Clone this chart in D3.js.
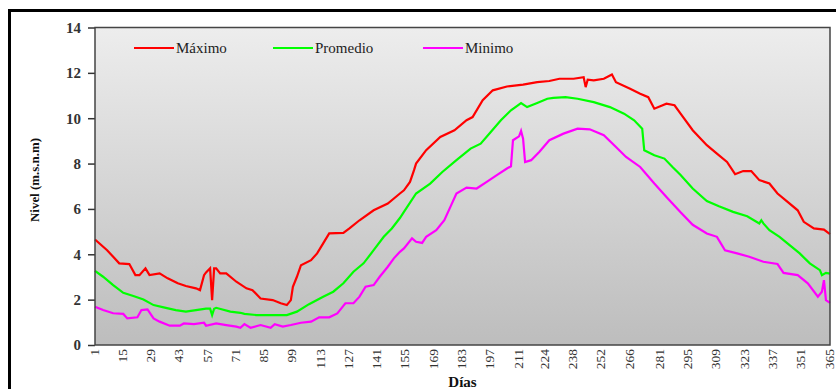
<!DOCTYPE html>
<html>
<head>
<meta charset="utf-8">
<script src="https://cdn.jsdelivr.net/npm/d3@7/dist/d3.min.js"></script>
<style>
html,body{margin:0;padding:0;background:#fff;}
svg{display:block;}
</style>
</head>
<body>
<svg id="chart" width="836" height="389"></svg>
<script>
// ---- Data ----
const xTickLabels = [1,15,29,43,57,71,85,99,113,127,141,155,169,183,197,211,224,238,252,266,281,295,309,323,337,351,365];
const yTickLabels = [0,2,4,6,8,10,12,14];
const seriesNames = ["Máximo","Promedio","Minimo"];
const seriesColors = ["#ff0000","#00ff00","#ff00ff"];

const maxDays = [1,7,10,13,18,21,23,26,28,33,37,42,46,51,53,55,56,58,59,60,61,63,66,71,76,79,83,89,93,96,98,99,101,103,108,111,114,117,124,127,132,139,146,152,154,157,159,160,165,172,179,185,188,193,198,205,213,220,226,231,238,243,244,245,248,253,257,259,266,271,275,278,284,288,291,297,304,309,314,318,322,326,330,335,339,344,349,352,357,362,365];
const maxVals = [4.65,4.18,3.89,3.6,3.57,3.08,3.08,3.38,3.08,3.16,2.94,2.72,2.6,2.5,2.42,3.08,3.2,3.38,1.98,3.38,3.38,3.16,3.16,2.79,2.5,2.42,2.05,1.98,1.84,1.76,1.98,2.57,3.01,3.52,3.74,4.04,4.48,4.92,4.94,5.14,5.5,5.94,6.24,6.68,6.82,7.19,7.71,8.0,8.59,9.17,9.47,9.91,10.05,10.79,11.23,11.4,11.48,11.59,11.64,11.74,11.74,11.81,11.37,11.7,11.67,11.74,11.93,11.59,11.3,11.08,10.93,10.42,10.64,10.57,10.2,9.47,8.81,8.44,8.07,7.53,7.67,7.67,7.27,7.12,6.68,6.31,5.94,5.43,5.14,5.09,4.89];

const avgDays = [1,5,10,15,20,25,30,35,41,46,51,56,58,59,60,61,68,73,75,81,89,96,101,107,114,119,124,129,134,139,144,148,152,154,160,167,173,180,187,192,197,202,207,212,215,220,225,228,234,240,248,256,263,268,272,273,278,283,287,291,297,304,310,317,324,330,331,332,335,340,345,350,355,360,361,363,365];
const avgVals = [3.27,3.01,2.64,2.3,2.16,2.01,1.76,1.66,1.54,1.47,1.54,1.6,1.6,1.32,1.6,1.64,1.47,1.42,1.37,1.32,1.32,1.32,1.47,1.8,2.13,2.35,2.72,3.23,3.6,4.18,4.77,5.14,5.6,5.87,6.68,7.12,7.63,8.15,8.66,8.88,9.39,9.91,10.35,10.67,10.49,10.67,10.86,10.9,10.93,10.86,10.71,10.49,10.2,9.91,9.54,8.59,8.37,8.22,7.85,7.5,6.9,6.35,6.12,5.87,5.68,5.36,5.5,5.36,5.06,4.77,4.4,4.04,3.6,3.3,3.08,3.18,3.15];

const minDays = [1,5,10,15,17,22,24,27,30,33,38,43,45,50,55,56,61,66,71,73,75,78,83,88,90,94,98,103,108,112,117,121,125,129,132,135,139,142,146,149,152,154,158,160,163,165,170,174,177,180,185,190,195,200,205,207,208,211,212,213,214,217,221,226,233,240,246,253,259,264,271,278,284,291,297,304,309,313,319,325,332,339,342,349,354,359,361,362,363,365];
const minVals = [1.69,1.54,1.4,1.37,1.17,1.22,1.54,1.57,1.17,1.03,0.85,0.85,0.95,0.92,0.98,0.85,0.95,0.88,0.81,0.76,0.92,0.76,0.88,0.76,0.92,0.81,0.88,0.98,1.03,1.22,1.22,1.39,1.84,1.84,2.13,2.57,2.64,3.01,3.45,3.82,4.11,4.26,4.7,4.55,4.5,4.77,5.06,5.5,6.09,6.68,6.94,6.9,7.19,7.49,7.78,7.88,9.03,9.2,9.44,9.1,8.07,8.15,8.51,9.03,9.32,9.54,9.51,9.25,8.73,8.29,7.85,7.12,6.53,5.85,5.3,4.92,4.77,4.18,4.04,3.89,3.67,3.57,3.18,3.08,2.72,2.13,2.35,2.86,1.98,1.86];

// ---- Chart ----
const svg = d3.select("#chart");
const W = 836, H = 389;
const plot = {left: 95, top: 27.5, right: 830, bottom: 345};

const x = d3.scaleLinear().domain([1, 365]).range([plot.left, plot.right]);
const y = d3.scaleLinear().domain([0, 14]).range([plot.bottom, plot.top]);

// outer frame
svg.append("rect")
  .attr("x", 9.5).attr("y", 10.5)
  .attr("width", W + 20).attr("height", H + 20)
  .attr("fill", "#fff").attr("stroke", "#000").attr("stroke-width", 3);

// gradient background
const defs = svg.append("defs");
const grad = defs.append("linearGradient").attr("id", "bg")
  .attr("x1", 0).attr("y1", 0).attr("x2", 0).attr("y2", 1);
grad.append("stop").attr("offset", "0%").attr("stop-color", "#ededed");
grad.append("stop").attr("offset", "100%").attr("stop-color", "#bdbdbd");

svg.append("rect")
  .attr("x", plot.left).attr("y", plot.top)
  .attr("width", plot.right - plot.left).attr("height", plot.bottom - plot.top)
  .attr("fill", "url(#bg)");

// y axis
const yAxis = d3.axisLeft(y).tickValues(yTickLabels).tickSize(7).tickPadding(7).tickFormat(d3.format("d"));
const gy = svg.append("g").attr("transform", `translate(${plot.left},0)`).call(yAxis);
gy.select(".domain").remove();
gy.selectAll(".tick line").attr("stroke", "#333").attr("stroke-width", 1.5);
gy.selectAll(".tick text")
  .attr("font-family", "'Liberation Serif','Times New Roman',serif")
  .attr("font-size", 15).attr("font-weight", "bold").attr("fill", "#333");

// x axis
const xAxis = d3.axisBottom(x).tickValues(xTickLabels).tickSize(0).tickPadding(0).tickFormat(d3.format("d"));
const gx = svg.append("g").attr("transform", `translate(0,${plot.bottom})`).call(xAxis);
gx.select(".domain").remove();
gx.selectAll(".tick text")
  .attr("font-family", "'Liberation Serif','Times New Roman',serif")
  .attr("font-size", 13.5).attr("fill", "#333")
  .attr("text-anchor", "end")
  .attr("dy", null)
  .attr("transform", "translate(3,4) rotate(-90)")
  .attr("x", 0).attr("y", 0);

// series lines
const line = d3.line().x(d => x(d[0])).y(d => y(d[1]));
const series = [
  d3.zip(maxDays, maxVals),
  d3.zip(avgDays, avgVals),
  d3.zip(minDays, minVals)
];
svg.append("g").selectAll("path").data(series).join("path")
  .attr("d", line)
  .attr("fill", "none")
  .attr("stroke", (d, i) => seriesColors[i])
  .attr("stroke-width", 2.2)
  .attr("stroke-linejoin", "miter");

// plot border
svg.append("rect")
  .attr("x", plot.left).attr("y", plot.top)
  .attr("width", plot.right - plot.left).attr("height", plot.bottom - plot.top)
  .attr("fill", "none").attr("stroke", "#444").attr("stroke-width", 1.5);

// legend
const legendX = [134, 273, 423];
const lg = svg.append("g").selectAll("g").data(seriesNames).join("g")
  .attr("transform", (d, i) => `translate(${legendX[i]},48)`);
lg.append("line").attr("x1", 0).attr("x2", 40).attr("y1", 0).attr("y2", 0)
  .attr("stroke", (d, i) => seriesColors[i]).attr("stroke-width", 2);
lg.append("text").attr("x", 42).attr("y", 5)
  .attr("font-family", "'Liberation Serif','Times New Roman',serif")
  .attr("font-size", 15).attr("fill", "#222")
  .text(d => d);

// axis titles
svg.append("text")
  .attr("x", x(183)).attr("y", 387)
  .attr("text-anchor", "middle")
  .attr("font-family", "'Liberation Serif','Times New Roman',serif")
  .attr("font-size", 15).attr("font-weight", "bold").attr("fill", "#111")
  .text("Días");

svg.append("text")
  .attr("transform", "translate(39,180) rotate(-90)")
  .attr("text-anchor", "middle")
  .attr("font-family", "'Liberation Serif','Times New Roman',serif")
  .attr("font-size", 13).attr("font-weight", "bold").attr("fill", "#111")
  .attr("textLength", 84).attr("lengthAdjust", "spacingAndGlyphs")
  .text("Nivel (m.s.n.m)");
</script>
</body>
</html>
